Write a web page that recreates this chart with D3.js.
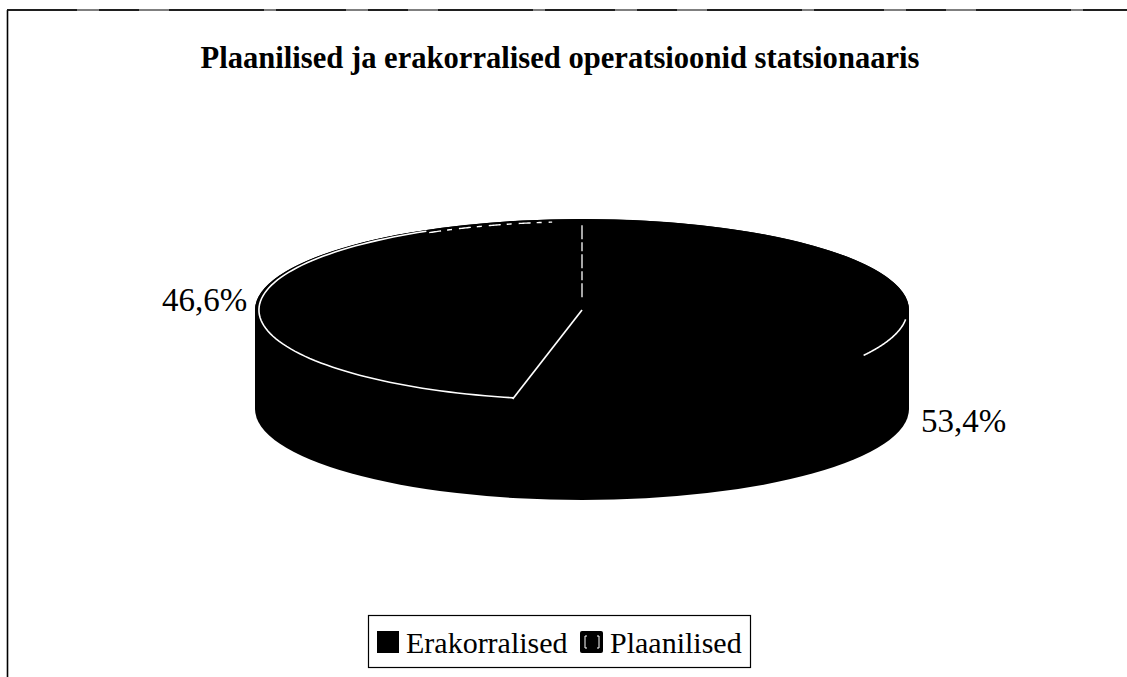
<!DOCTYPE html>
<html><head><meta charset="utf-8">
<script src="https://cdn.jsdelivr.net/npm/d3@7"></script>
<style>html,body{margin:0;background:#fff}svg{display:block}text{font-family:"Liberation Serif",serif;fill:#000}</style>
</head><body><div id="c"></div>
<script>
const categories=["Plaanilised","Erakorralised"];
const values=[46.6,53.4];
const valueLabels=["46,6%","53,4%"];
const legendLabels=["Erakorralised","Plaanilised"];
const titleText="Plaanilised ja erakorralised operatsioonid statsionaaris";
const W=1127,H=677,cx=582,cy=310,rx=327,ry=91,depth=99;
const svg=d3.select("#c").append("svg").attr("width",W).attr("height",H);
// frame: left edge and scanned top edge, open on the right
svg.append("path").attr("d",`M7.5,${H}V10`).attr("fill","none").attr("stroke","#000").attr("stroke-width",1.6);
svg.append("path").attr("d",`M7,10H${W}`).attr("fill","none").attr("stroke","#555").attr("stroke-width",1.4);
svg.append("path").attr("d",`M7,10H${W}`).attr("fill","none").attr("stroke","#000").attr("stroke-width",1.4).attr("stroke-dasharray","70 22 40 30 95 12");
svg.append("text").attr("x",560).attr("y",68).attr("text-anchor","middle").attr("font-size",30.6).attr("font-weight","bold").text(titleText);
// pie: first slice runs counter-clockwise from twelve o'clock
const pie=d3.pie().sort(null).value(d=>d).startAngle(0).endAngle(-2*Math.PI);
const arcs=pie(values);
const sy=ry/rx;
const arcGen=d3.arc().innerRadius(0).outerRadius(rx);
// side wall
svg.append("path").attr("fill","#000").attr("d",`M${cx-rx},${cy}V${cy+depth}A${rx},${ry} 0 0 0 ${cx+rx},${cy+depth}V${cy}A${rx},${ry} 0 0 0 ${cx-rx},${cy}Z`);
const pieG=svg.append("g").attr("transform",`translate(${cx},${cy}) scale(1,${sy})`);
pieG.selectAll("path.s").data(arcs).join("path").attr("class","s").attr("fill","#000").attr("d",arcGen);
// white outlines
const pt=(a,k=1)=>[cx+rx*k*Math.sin(a),cy-ry*k*Math.cos(a)];
const lineOf=(a0,a1,k)=>{const n=80;return d3.line()(d3.range(n+1).map(i=>pt(a0+(a1-a0)*i/n,k)));};
const A=arcs[0].endAngle; // boundary at lower left
const white=svg.append("g").attr("fill","none").attr("stroke","#fff");
white.append("path").attr("stroke-width",1.7).attr("d",d3.line()([pt(0,0),pt(A)]));
white.append("path").attr("stroke-width",1.6).attr("d",lineOf(A,-0.16*Math.PI,0.988));
white.append("path").attr("stroke-width",1.4).attr("stroke-dasharray","12 6 5 7").attr("d",lineOf(-0.16*Math.PI,-0.03*Math.PI,0.97));
white.append("path").attr("stroke-width",1.3).attr("stroke-dasharray","14 3 9 3").attr("d",d3.line()([pt(0,0.14),pt(0,0.95)]));
white.append("path").attr("stroke-width",1.6).attr("d",lineOf(0.533*Math.PI,0.667*Math.PI,0.995));
// value labels
const labels=svg.append("g").attr("font-size",33);
labels.append("text").attr("x",162).attr("y",311).text(valueLabels[0]);
labels.append("text").attr("x",921).attr("y",432).text(valueLabels[1]);
// legend
const lg=svg.append("g");
lg.append("rect").attr("x",368.5).attr("y",615.5).attr("width",382).attr("height",52).attr("fill","#fff").attr("stroke","#000").attr("stroke-width",1.2);
lg.append("rect").attr("x",377).attr("y",631).attr("width",22).attr("height",22).attr("fill","#000");
lg.append("text").attr("x",406).attr("y",653).attr("font-size",30).text(legendLabels[0]);
lg.append("rect").attr("x",580).attr("y",631).attr("width",23).attr("height",22).attr("rx",2).attr("fill","#000");
lg.append("path").attr("d","M587,636H585V648H587M597,636H599V648H597").attr("fill","none").attr("stroke","#fff");
lg.append("text").attr("x",610).attr("y",653).attr("font-size",30).text(legendLabels[1]);
</script></body></html>
